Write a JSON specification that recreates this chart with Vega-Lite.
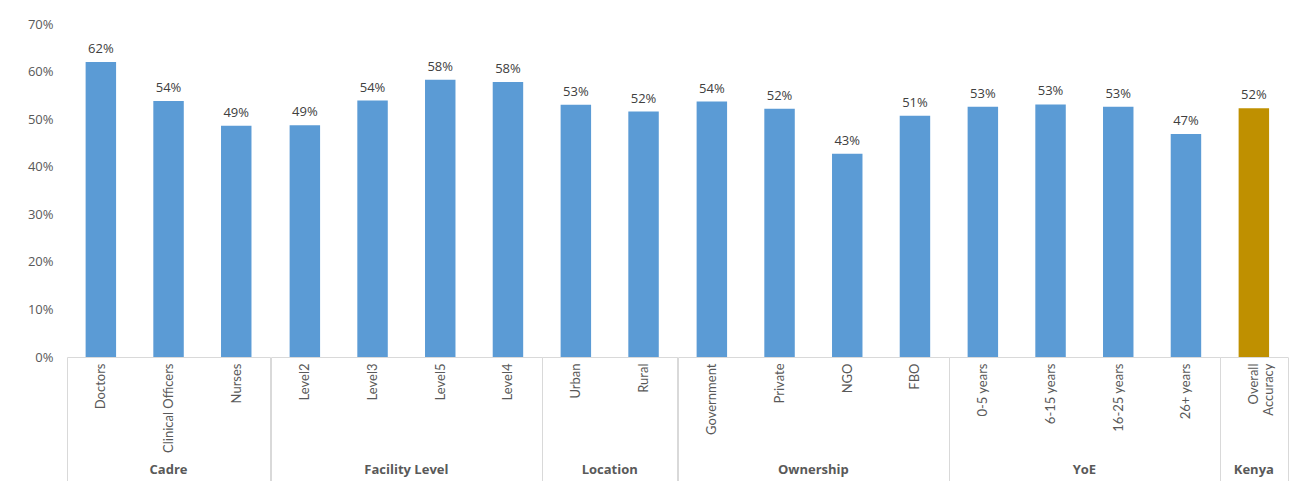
{
  "$schema": "https://vega.github.io/schema/vega-lite/v6.json",
  "padding": {"left": 27, "top": 18, "right": 10, "bottom": 0},
  "background": "white",
  "bounds": "flush",
  "data": {"values": [
    {"group": "Cadre", "category": "Doctors", "value": 0.620},
    {"group": "Cadre", "category": "Clinical Officers", "value": 0.538},
    {"group": "Cadre", "category": "Nurses", "value": 0.486},
    {"group": "Facility Level", "category": "Level2", "value": 0.487},
    {"group": "Facility Level", "category": "Level3", "value": 0.539},
    {"group": "Facility Level", "category": "Level5", "value": 0.583},
    {"group": "Facility Level", "category": "Level4", "value": 0.578},
    {"group": "Location", "category": "Urban", "value": 0.530},
    {"group": "Location", "category": "Rural", "value": 0.516},
    {"group": "Ownership", "category": "Government", "value": 0.537},
    {"group": "Ownership", "category": "Private", "value": 0.522},
    {"group": "Ownership", "category": "NGO", "value": 0.427},
    {"group": "Ownership", "category": "FBO", "value": 0.507},
    {"group": "YoE", "category": "0-5 years", "value": 0.526},
    {"group": "YoE", "category": "6-15 years", "value": 0.531},
    {"group": "YoE", "category": "16-25 years", "value": 0.526},
    {"group": "YoE", "category": "26+ years", "value": 0.469},
    {"group": "Kenya", "category": "Overall Accuracy", "value": 0.523}
  ]},
  "facet": {
    "column": {
      "field": "group",
      "type": "nominal",
      "sort": ["Cadre", "Facility Level", "Location", "Ownership", "YoE", "Kenya"],
      "header": {
        "title": null,
        "labelOrient": "bottom",
        "labelFont": "Open Sans",
        "labelFontSize": 13,
        "labelFontWeight": "bold",
        "labelColor": "#595959",
        "labelPadding": 107
      }
    }
  },
  "spacing": 0,
  "resolve": {"scale": {"x": "independent"}},
  "spec": {
    "width": {"step": 67.7},
    "height": 333,
    "encoding": {
      "x": {
        "field": "category",
        "type": "nominal",
        "sort": null,
        "scale": {"paddingInner": 0, "paddingOuter": 0},
        "axis": {
          "title": null,
          "labelAngle": -90,
          "labelFont": "Lato",
          "labelFontSize": 13,
          "labelColor": "#595959",
          "labelPadding": -118,
          "labelExpr": "datum.label == 'Overall Accuracy' ? ['Overall', 'Accuracy'] : datum.label",
          "domainColor": "#d9d9d9",
          "domainWidth": 1,
          "tickBand": "extent",
          "tickSize": 124,
          "tickColor": "#d9d9d9",
          "tickOpacity": {"condition": {"test": "datum.index === 1 || datum.index === -1 || datum.value === 'Overall Accuracy'", "value": 1}, "value": 0}
        }
      },
      "y": {
        "field": "value",
        "type": "quantitative",
        "scale": {"domain": [0, 0.7]},
        "axis": {
          "title": null,
          "format": ".0%",
          "values": [0, 0.1, 0.2, 0.3, 0.4, 0.5, 0.6, 0.7],
          "grid": false,
          "domain": false,
          "ticks": false,
          "labelFont": "Open Sans",
          "labelFontSize": 13,
          "labelColor": "#595959",
          "labelPadding": 14
        }
      }
    },
    "layer": [
      {
        "mark": {"type": "bar", "width": {"band": 0.45}},
        "encoding": {
          "color": {"condition": {"test": "datum.group === 'Kenya'", "value": "#BF9000"}, "value": "#5B9BD5"}
        }
      },
      {
        "mark": {"type": "text", "dy": -13, "font": "Open Sans", "fontSize": 13, "color": "#404040"},
        "encoding": {
          "text": {"field": "value", "type": "quantitative", "format": ".0%"}
        }
      }
    ]
  },
  "config": {"view": {"stroke": null}}
}
